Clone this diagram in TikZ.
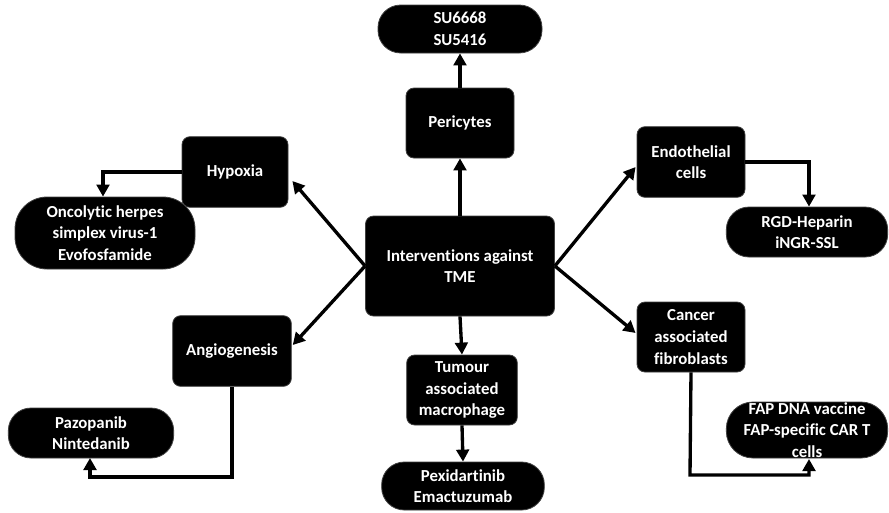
\documentclass[tikz,border=0pt]{standalone}
\usepackage{fontspec}
\setmainfont[Ligatures=NoCommon]{Carlito}
\usetikzlibrary{arrows.meta,calc}
\begin{document}
\begin{tikzpicture}[x=0.75pt,y=-0.75pt,
  box/.style={fill=black,draw=black!75,line width=0.6pt,rounded corners=6pt,
    text=white,font=\bfseries\fontsize{12.6}{16.2}\selectfont,align=center,inner sep=0pt},
  pill/.style={box,rounded corners=17pt},
  arr/.style={line width=2.5pt,-{Triangle[length=9pt,width=9.5pt]}},
  elbow/.style={arr,rounded corners=0pt}]
\useasboundingbox (0,0) rectangle (889,512);
\node[box,minimum width=141.75pt,minimum height=75pt] (c) at (460,266) {Interventions against\\TME};
\node[box,minimum width=81pt,minimum height=52.5pt] (per) at (460,123) {Pericytes};
\node[pill,minimum width=123pt,minimum height=36pt] (su) at (460,29) {SU6668\\SU5416};
\node[box,minimum width=83pt,minimum height=52.5pt] (tam) at (462,390) {Tumour\\associated\\macrophage};
\node[pill,minimum width=122pt,minimum height=36pt] (pex) at (463,486) {Pexidartinib\\Emactuzumab};
\node[box,minimum width=79.5pt,minimum height=53pt] (hyp) at (235,172) {Hypoxia};
\node[pill,rounded corners=24pt,minimum width=135pt,minimum height=54pt] (onc) at (105,233) {Oncolytic herpes\\simplex virus-1\\Evofosfamide};
\node[box,minimum width=89pt,minimum height=53pt] (ang) at (232,351) {Angiogenesis};
\node[pill,minimum width=124pt,minimum height=37.5pt] (paz) at (91,433) {Pazopanib\\Nintedanib};
\node[box,minimum width=81pt,minimum height=53pt] (endo) at (691,162) {Endothelial\\cells};
\node[pill,minimum width=121pt,minimum height=37.5pt] (rgd) at (807,232) {RGD-Heparin\\iNGR-SSL};
\node[box,minimum width=81pt,minimum height=52.5pt] (caf) at (691,337) {Cancer\\associated\\fibroblasts};
\node[pill,rounded corners=20pt,minimum width=121pt,minimum height=42pt] (fap) at (807,430) {FAP DNA vaccine\\FAP-specific CAR T\\cells};
% connectors
\draw[arr] (c.north) -- (per.south);
\draw[arr] (per.north) -- (su.south);
\draw[arr] (c.south) -- (tam.north);
\draw[arr] (tam.south) -- (pex.north);
\draw[arr] (c.west) -- ($(hyp.east)+(4,9)$);
\draw[arr] (c.west) -- ($(ang.east)+(1,-6)$);
\draw[arr] (c.east) -- ($(endo.west)+(-1,5)$);
\draw[arr] (c.east) -- ($(caf.west)+(-1,-4)$);
\draw[elbow] (hyp.west) -| (onc.north -| 103,0);
\draw[elbow] (endo.east) -| (rgd.north -| 809,0);
\coordinate (a1) at (232,477);
\draw[elbow] (ang.south) -- (a1) -| (90,458);
\coordinate (a2) at (690,475);
\draw[elbow] (caf.south) -- (a2) -| (809,459);
\end{tikzpicture}
\end{document}
